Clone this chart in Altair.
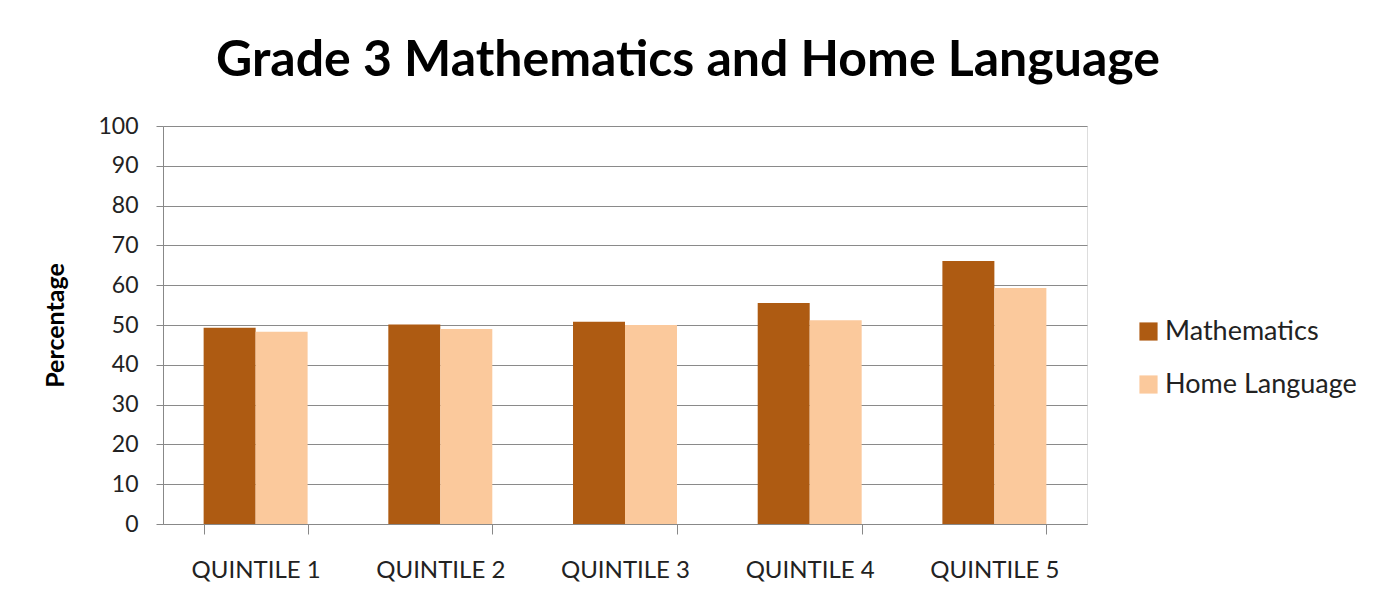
import altair as alt
import pandas as pd

quintiles = ["QUINTILE 1", "QUINTILE 2", "QUINTILE 3", "QUINTILE 4", "QUINTILE 5"]
mathematics = [49.3, 50.1, 50.8, 55.5, 66.1]
home_language = [48.3, 49.0, 50.0, 51.2, 59.3]
series = ["Mathematics", "Home Language"]
colors = ["#AE5B12", "#FBC99C"]

rows = []
for q, m, h in zip(quintiles, mathematics, home_language):
    rows.append({"quintile": q, "series": series[0], "value": m})
    rows.append({"quintile": q, "series": series[1], "value": h})
df = pd.DataFrame(rows)

font = "Lato"

chart = alt.Chart(df).mark_bar().encode(
    x=alt.X("quintile:N", sort=quintiles,
            scale=alt.Scale(paddingInner=0.437, paddingOuter=0.22),
            axis=alt.Axis(title=None, labelAngle=0, labelFontSize=24, labelFont=font,
                          labelColor="#222", labelPadding=24, tickBand="extent",
                          tickSize=10, tickColor="#888", domainColor="#888",
                          grid=False)),
    xOffset=alt.XOffset("series:N", sort=series),
    y=alt.Y("value:Q", scale=alt.Scale(domain=[0, 100], nice=False),
            axis=alt.Axis(title="Percentage", values=list(range(0, 101, 10)),
                          labelFontSize=23, labelFont=font, labelColor="#222",
                          labelPadding=18, tickSize=7, tickColor="#888",
                          domainColor="#888", gridColor="#8a8a8a", gridWidth=1,
                          titleFont=font, titleFontSize=25, titleFontWeight="bold",
                          titleColor="#000", titleX=-108, titleY=199,
                          titleAngle=270, titleAlign="center", titleBaseline="middle")),
    color=alt.Color("series:N", sort=series,
                    scale=alt.Scale(domain=series, range=colors),
                    legend=alt.Legend(title=None, orient="none", legendX=972, legendY=192,
                                      symbolType="square", symbolSize=330,
                                      symbolStrokeWidth=0, labelFontSize=27, labelFont=font,
                                      labelColor="#222", rowPadding=25, labelOffset=3,
                                      labelLimit=400)),
).properties(
    width=924, height=398,
    title=alt.TitleParams("Grade 3 Mathematics and Home Language", fontSize=50,
                          font=font, fontWeight="bold", color="#000",
                          anchor="middle", offset=29, dx=63),
    autosize=alt.AutoSizeParams(type="none"),
    padding={"left": 155, "top": 118, "right": 280, "bottom": 80},
).configure_view(stroke=None).configure(background="white")

chart.save("out.html", embed_options={"renderer": "svg", "actions": False})
